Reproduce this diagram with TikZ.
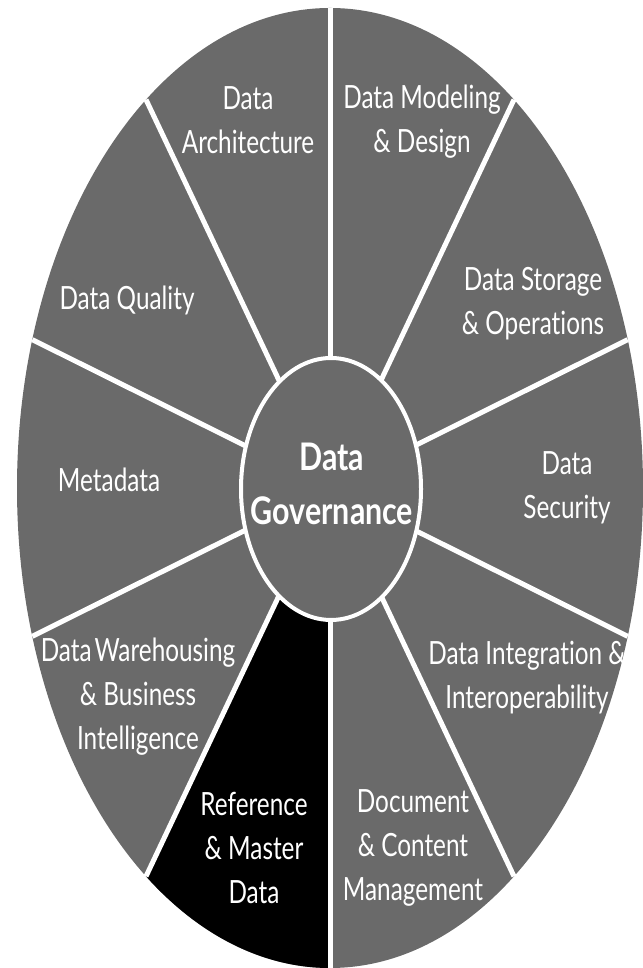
\documentclass[tikz,border=0pt]{standalone}
\usepackage{fontspec}
\setmainfont[Ligatures={NoCommon}]{Lato}
\begin{document}
\begin{tikzpicture}[x=1pt,y=1pt,
  divider/.style={draw=white,line width=5pt},
  lbl/.style={text=white,align=center,xscale=0.76,inner sep=0pt,font=\fontsize{32}{44}\selectfont},
  hub/.style={text=white,align=center,xscale=0.8,inner sep=0pt,font=\bfseries\fontsize{38}{54}\selectfont}]
\definecolor{wheelgray}{HTML}{6A6A6A}
\useasboundingbox (0,0) rectangle (642,968);
% outer wheel
\fill[wheelgray] (330,480) ellipse [x radius=313, y radius=480];
% highlighted sector
\fill[black] (330,480) -- ({330+313*cos(234)},{480+480*sin(234)})
  arc[start angle=234,end angle=270,x radius=313,y radius=480] -- cycle;
% dividers
\foreach \a in {90,54,...,-234}
  \draw[divider] (330,480) -- ({330+313*cos(\a)},{480+480*sin(\a)});
% hub
\draw[draw=white,line width=4pt,fill=wheelgray] (331,479) ellipse [x radius=90, y radius=131];
\node[hub] (gov) at (332,484) {Data\\Governance};
% labels
\node[lbl] (arch) at (248,848) {Data\\Architecture};
\node[lbl] (model) at (422,846) {Data Modeling\\\& Design};
\node[lbl] (store) at (533,664) {Data Storage\\\& Operations};
\node[lbl] (qual) at (127,668) {Data Quality};
\node[lbl] (meta) at (109,488) {Metadata};
\node[lbl] (sec) at (567,480) {Data\\Security};
\node[lbl] (dw) at (138,271) {Data\kern0.12em Warehousing\\\& Business\\Intelligence};
\node[lbl] (integ) at (527,290) {Data Integration \&\\Interoperability};
\node[lbl] (ref) at (254,120) {Reference\\\& Master\\Data};
\node[lbl] (doc) at (413,120) {Document\\\& Content\\Management};
\end{tikzpicture}
\end{document}
